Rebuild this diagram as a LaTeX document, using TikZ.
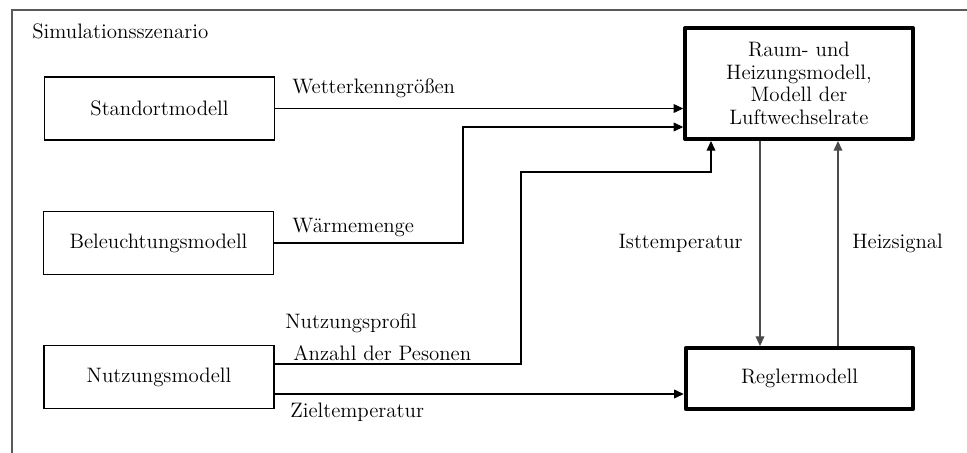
\documentclass[tikz,border=0pt]{standalone}
\usetikzlibrary{arrows.meta}

\tikzset{
  modell/.style={draw, line width=0.6pt, minimum width=4.6cm, minimum height=1.26cm, inner sep=0pt},
  hauptmodell/.style={draw, line width=2.3pt, line join=round, minimum width=4.55cm, inner sep=0pt, text width=4.4cm, align=center},
  lbl/.style={inner sep=0pt},
  fluss/.style={line width=0.6pt, -{Triangle[length=5.5pt,width=5pt]}},
}

\begin{document}
\begin{tikzpicture}[x=0.02cm, y=-0.02cm, font=\fontsize{11.9}{12.8}\selectfont]
  \useasboundingbox (0,0) rectangle (967,453);
  % Rahmen
  \draw[gray!70!black, line width=0.7pt] (12,453) -- (12,10) -- (967,10);
  \node[lbl, anchor=west] (szenario) at (32,31) {Simulationsszenario};

  % Modelle
  \node[modell] (standort) at (159.5,108.5) {Standortmodell};
  \node[modell] (beleuchtung) at (158.5,243) {Beleuchtungsmodell};
  \node[modell] (nutzung) at (159,377) {Nutzungsmodell};
  \node[hauptmodell, minimum height=2.22cm] (raum) at (799,83.5) {Raum- und\\ Heizungsmodell,\\ Modell der\\ Luftwechselrate};
  \node[hauptmodell, minimum height=1.22cm] (regler) at (799.5,378.5) {Reglermodell};

  % Hilfspunkte
  \coordinate (w1) at (463,243);
  \coordinate (w2) at (463,127);
  \coordinate (n1) at (274,364);
  \coordinate (n2) at (521,364);
  \coordinate (n3) at (521,172);
  \coordinate (n4) at (711,172);
  \coordinate (z1) at (274,394);
  \coordinate (i1) at (760,141);
  \coordinate (h1) at (838,346);

  % Verbindungen
  \draw[fluss] (standort.east) -- (standort.east -| raum.west);
  \draw[fluss] (beleuchtung.east) -- (w1) -- (w2) -- (w2 -| raum.west);
  \draw[fluss] (n1) -- (n2) -- (n3) -- (n4) -- (n4 |- raum.south);
  \draw[fluss] (z1) -- (z1 -| regler.west);
  \draw[fluss, gray!60!black] (i1) -- (i1 |- regler.north);
  \draw[fluss, gray!60!black] (h1) -- (h1 |- raum.south);

  % Beschriftungen
  \node[lbl, anchor=west] (wetter) at (292,88) {Wetterkenngrößen};
  \node[lbl, anchor=west] (waerme) at (292,227) {Wärmemenge};
  \node[lbl, anchor=west] (profil) at (285,323) {Nutzungsprofil};
  \node[lbl, anchor=west] (anzahl) at (293,353) {Anzahl der Pesonen};
  \node[lbl, anchor=west] (ziel) at (290,412) {Zieltemperatur};
  \node[lbl, anchor=east] (ist) at (743,243) {Isttemperatur};
  \node[lbl, anchor=west] (heiz) at (852,243) {Heizsignal};
\end{tikzpicture}
\end{document}
